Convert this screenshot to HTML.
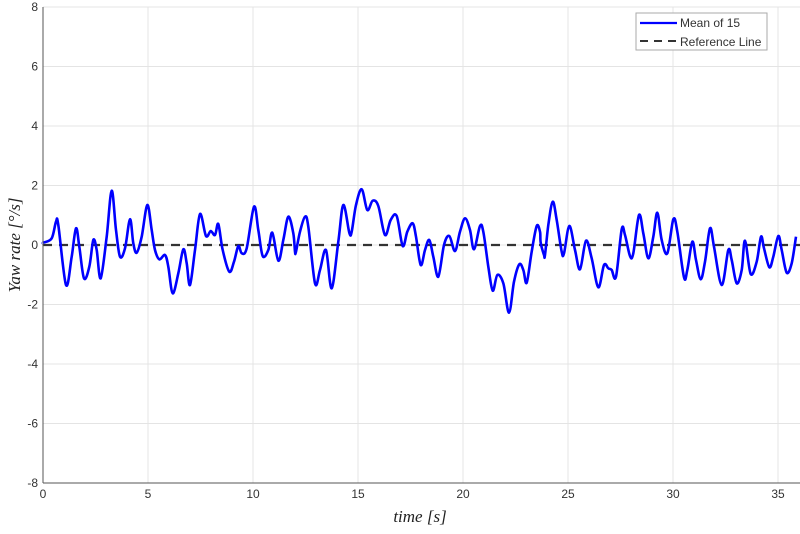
<!DOCTYPE html>
<html><head><style>
body{margin:0;background:#fff;}
svg text{font-family:"Liberation Sans",sans-serif;font-size:12px;fill:#333;}
</style></head><body>
<svg id="s" width="800" height="529" xmlns="http://www.w3.org/2000/svg">
<rect x="0" y="0" width="800" height="529" fill="#fff"/>
<g id="grid" stroke="#e4e4e4" stroke-width="1"></g>
<g id="ticks"></g>
<line x1="43" y1="245" x2="800" y2="245" stroke="#333" stroke-width="2.2" stroke-dasharray="9,7"/>
<path id="curve" fill="none" stroke="#0000ff" stroke-width="2.6" stroke-linejoin="round"/>
<line x1="43" y1="7" x2="43" y2="483" stroke="#555" stroke-width="1"/>
<line x1="43" y1="483" x2="800" y2="483" stroke="#555" stroke-width="1"/>
<rect x="636" y="13" width="131" height="37" fill="#fff" stroke="#aaa" stroke-width="1"/>
<line x1="640" y1="23" x2="677" y2="23" stroke="#0000ff" stroke-width="2.2"/>
<text x="680" y="27" style="font-size:12px">Mean of 15</text>
<line x1="640" y1="41" x2="677" y2="41" stroke="#333" stroke-width="2" stroke-dasharray="8,6"/>
<text x="680" y="46" style="font-size:12px">Reference Line</text>
<text x="420" y="522" text-anchor="middle" style="font-family:'Liberation Serif',serif;font-style:italic;font-size:17px;fill:#222">time [s]</text>
<text transform="translate(20,245) rotate(-90)" text-anchor="middle" style="font-family:'Liberation Serif',serif;font-style:italic;font-size:17px;fill:#222">Yaw rate [°/s]</text>
</svg>
<script>
var ns="http://www.w3.org/2000/svg";
var g=document.getElementById('grid'),t=document.getElementById('ticks');
function el(p,n,a,txt){var e=document.createElementNS(ns,n);for(var k in a)e.setAttribute(k,a[k]);if(txt!==undefined)e.textContent=txt;p.appendChild(e);}
for(var i=0;i<=7;i++){var x=43+i*105;el(g,'line',{x1:x,y1:7,x2:x,y2:483});el(t,'text',{x:x,y:498,'text-anchor':'middle'},String(i*5));}
for(var v=-8;v<=8;v+=2){var y=245-v*29.75;el(g,'line',{x1:43,y1:y,x2:800,y2:y});el(t,'text',{x:38,y:y+4,'text-anchor':'end'},String(v));}
var z1=[[10,218],[35,205],[48,155],[55,165],[78,345],[95,260],[108,175],[118,230],[132,325],[148,290],[160,210],[170,240],[182,325],[200,200],[215,62],[228,180],[240,260],[255,235],[270,148],[280,220],[290,248],[305,200],[322,105],[335,180],[345,240],[358,268],[375,255],[385,290],[398,370],[415,310],[430,238],[440,280],[450,345],[465,240],[480,132],[498,198],[512,183],[525,195],[535,162],[548,240],[568,305],[582,275],[595,228],[605,250],[620,235],[642,110],[655,180],[668,258],[685,240],[697,188],[715,272],[730,210],[745,140],[760,190],[768,245]];
var z2=[[15,245],[30,185],[45,140],[55,170],[75,340],[90,300],[108,240],[125,355],[145,215],[160,105],[178,188],[185,185],[198,105],[215,58],[232,120],[248,92],[265,108],[285,195],[302,150],[320,138],[338,228],[352,185],[368,160],[378,200],[392,285],[405,240],[418,210],[430,260],[445,320],[462,225],[478,198],[495,243],[510,185],[525,145],[540,180],[552,238],[570,168],[580,185],[595,290],[608,362],[622,315],[640,340],[657,428],[672,335],[688,283],[700,300],[710,338],[725,245],[740,168],[752,218],[765,255]];
var z3=[[0,185],[12,255],[25,165],[38,95],[50,150],[65,245],[72,250],[88,168],[105,240],[120,298],[138,212],[155,265],[175,352],[192,285],[205,295],[215,300],[228,320],[245,178],[255,195],[270,258],[280,250],[297,135],[310,190],[325,265],[340,200],[352,128],[365,210],[382,250],[400,148],[412,185],[432,322],[442,300],[457,215],[468,270],[482,328],[495,275],[510,175],[522,230],[545,345],[565,240],[575,270],[590,340],[605,300],[615,212],[632,312],[650,275],[663,200],[672,235],[688,292],[700,260],[715,198],[725,240],[740,308],[755,280],[768,200]];
var pts=[[43,243]];
function add(z,ox){z.forEach(function(p){pts.push([ox+p[0]/3,170+p[1]/3]);});}
add(z1,40);add(z2,290);add(z3,540);
pts.sort(function(a,b){return a[0]-b[0];});
var d="M"+pts[0][0]+","+pts[0][1];
for(var i=0;i<pts.length-1;i++){
 var p0=pts[Math.max(0,i-1)],p1=pts[i],p2=pts[i+1],p3=pts[Math.min(pts.length-1,i+2)];
 var c1x=p1[0]+(p2[0]-p0[0])/6,c1y=p1[1]+(p2[1]-p0[1])/6,c2x=p2[0]-(p3[0]-p1[0])/6,c2y=p2[1]-(p3[1]-p1[1])/6;
 d+=" C"+c1x.toFixed(1)+","+c1y.toFixed(1)+" "+c2x.toFixed(1)+","+c2y.toFixed(1)+" "+p2[0].toFixed(1)+","+p2[1].toFixed(1);
}
document.getElementById('curve').setAttribute('d',d);
</script>
</body></html>
